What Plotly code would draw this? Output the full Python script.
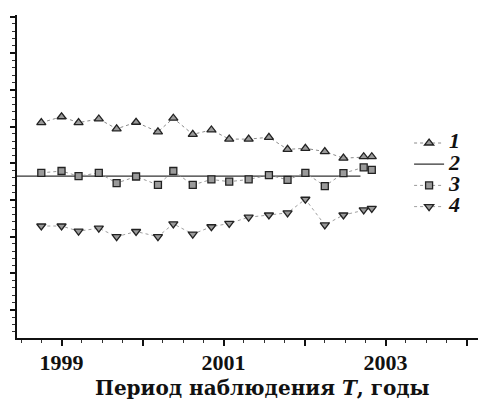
import plotly.graph_objects as go

# x positions (decimal years)
years = [1998.75, 1999.00, 1999.21, 1999.46, 1999.68, 1999.92, 2000.19, 2000.38,
         2000.62, 2000.85, 2001.07, 2001.31, 2001.56, 2001.79, 2002.01, 2002.25,
         2002.48, 2002.73, 2002.83]

series1 = [6.11, 6.27, 6.11, 6.21, 5.94, 6.12, 5.86, 6.23, 5.79, 5.91,
           5.66, 5.66, 5.71, 5.38, 5.41, 5.32, 5.14, 5.18, 5.18]
series3 = [4.74, 4.79, 4.65, 4.74, 4.46, 4.64, 4.41, 4.79, 4.41, 4.56,
           4.50, 4.56, 4.68, 4.55, 4.74, 4.38, 4.73, 4.89, 4.82]
series4 = [3.29, 3.29, 3.15, 3.23, 3.00, 3.14, 3.00, 3.35, 3.07, 3.27,
           3.36, 3.53, 3.59, 3.65, 4.02, 3.32, 3.59, 3.73, 3.77]

line2_x = [1998.45, 2002.69]
line2_level = 4.65

tick_years = [1999, 2000, 2001, 2002, 2003, 2004]
tick_text = ["1999", "", "2001", "", "2003", ""]

legend_names = ["1", "2", "3", "4"]
x_title = "Период наблюдения <i>T</i>, годы"

serif = "Liberation Serif"
mk_line = dict(color="#222222", width=1.3)


def leg(n):
    return '<span style="font-size:22px"><i>%s</i></span>' % n


fig = go.Figure()
fig.add_trace(go.Scatter(
    x=years, y=series1, mode="lines+markers", name=leg(legend_names[0]),
    line=dict(color="#8a8a8a", width=1, dash="dot"),
    marker=dict(symbol="triangle-up", size=8, color="#9a9a9a", line=mk_line)))
fig.add_trace(go.Scatter(
    x=line2_x, y=[line2_level, line2_level], mode="lines", name=leg(legend_names[1]),
    line=dict(color="#333333", width=1.2)))
fig.add_trace(go.Scatter(
    x=years, y=series3, mode="lines+markers", name=leg(legend_names[2]),
    line=dict(color="#9a9a9a", width=1, dash="dot"),
    marker=dict(symbol="square", size=7, color="#9a9a9a", line=mk_line)))
fig.add_trace(go.Scatter(
    x=years, y=series4, mode="lines+markers", name=leg(legend_names[3]),
    line=dict(color="#a0a0a0", width=1, dash="dot"),
    marker=dict(symbol="triangle-down", size=8, color="#9a9a9a", line=mk_line)))

fig.update_layout(
    width=478, height=395,
    margin=dict(l=9, r=0, t=7, b=65, autoexpand=False),
    paper_bgcolor="white", plot_bgcolor="white",
    showlegend=True,
    legend=dict(x=0.836, y=0.652, xanchor="left", yanchor="top",
                font=dict(family=serif, size=14, color="#111111", weight="bold"),
                bgcolor="rgba(0,0,0,0)", tracegroupgap=0, itemwidth=30),
    font=dict(family=serif, color="#111111"),
    annotations=[dict(
        text=x_title, xref="paper", yref="paper", x=0.5245, y=-0.155,
        xanchor="center", yanchor="middle", showarrow=False,
        font=dict(family="DejaVu Serif", size=20, color="#111111", weight="bold"))],
)
fig.update_xaxes(
    range=[1998.45, 2004.24], showgrid=False, zeroline=False, automargin=False,
    showline=True, linecolor="#111111", linewidth=2,
    tickmode="array", tickvals=tick_years, ticktext=tick_text,
    ticks="outside", ticklen=6, tickwidth=1.5, tickcolor="#111111",
    ticklabelstandoff=-2,
    minor=dict(dtick=0.25, tick0=1999, ticks="outside", ticklen=3, tickwidth=1, tickcolor="#333333"),
    tickfont=dict(family=serif, size=22, color="#111111", weight="bold"),
)
fig.update_yaxes(
    range=[0.236, 9.045], showgrid=False, zeroline=False, automargin=False,
    showline=True, linecolor="#111111", linewidth=2,
    tick0=1, dtick=1, showticklabels=False,
    ticks="outside", ticklen=5, tickwidth=1.5, tickcolor="#111111",
    minor=dict(dtick=0.2, ticks="outside", ticklen=3, tickwidth=1, tickcolor="#333333"),
)

fig.write_html("out.html")
